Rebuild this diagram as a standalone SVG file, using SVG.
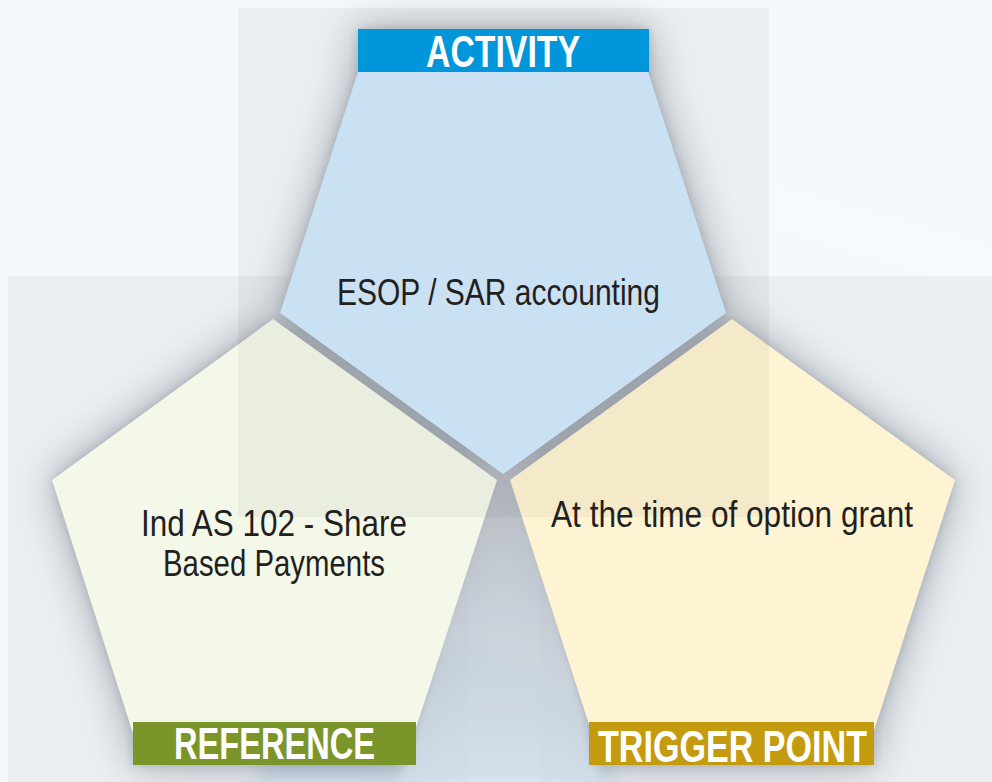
<svg xmlns="http://www.w3.org/2000/svg" width="992" height="782" viewBox="0 0 992 782">
  <defs>
    <filter id="shadowWide" x="-30%" y="-30%" width="160%" height="160%">
      <feGaussianBlur stdDeviation="22"/>
    </filter>
    <filter id="shadowTight" x="-20%" y="-20%" width="140%" height="140%">
      <feGaussianBlur stdDeviation="5"/>
    </filter>
    <filter id="soft" x="-20%" y="-20%" width="140%" height="140%">
      <feGaussianBlur stdDeviation="8"/>
    </filter>
    <linearGradient id="gapGrad" x1="0" y1="0" x2="0" y2="1">
      <stop offset="0" stop-color="#b3b7bf"/>
      <stop offset="0.45" stop-color="#c3cad3"/>
      <stop offset="1" stop-color="#d3dfe9"/>
    </linearGradient>
    <g id="shapes">
      <polygon points="365,50 641,50 726,313 503,474 280,313"/>
      <polygon points="273,319 497,480 411,743 136,743 52,480"/>
      <polygon points="732,319 955,480 870,743 595,743 510,480"/>
      <rect x="358" y="29" width="291" height="43"/>
      <rect x="133" y="722" width="283" height="43"/>
      <rect x="589" y="722" width="285" height="43"/>
    </g>
    <style>
      .veil { fill: #000000; fill-opacity: 0.04; }
      .body { font-family: "Liberation Sans", Arial, sans-serif; font-size: 36px; fill: #231f20; }
      .label { font-family: "Liberation Sans", Arial, sans-serif; font-size: 45px; font-weight: bold; fill: #ffffff; }
    </style>
  </defs>

  <!-- background -->
  <rect x="0" y="0" width="992" height="782" fill="#f5f9fc"/>
  <g id="background-streaks" filter="url(#soft)">
    <polygon points="250,782 320,700 470,640 560,690 620,782" fill="#c4def0" fill-opacity="0.7"/>
    <polygon points="700,170 992,250 992,290 760,220" fill="#ffffff" fill-opacity="0.25"/>
  </g>
  <rect class="veil" x="8" y="276" width="459" height="506"/>
  <rect class="veil" x="539" y="276" width="453" height="506"/>

  <!-- shadows -->
  <g id="shadows">
    <use href="#shapes" fill="#6f7784" opacity="0.62" filter="url(#shadowWide)"/>
    <use href="#shapes" fill="#8a909a" opacity="0.45" filter="url(#shadowTight)"/>
    <polygon points="490,470 517,470 600,782 400,782" fill="url(#gapGrad)" opacity="0.85" filter="url(#shadowTight)"/>
  </g>

  <g id="connectors"/>

  <g id="reference">
    <polygon points="273,319 497,480 411,743 136,743 52,480" fill="#f4f8e8"/>
  </g>
  <g id="trigger-point">
    <polygon points="732,319 955,480 870,743 595,743 510,480" fill="#fef3d2"/>
  </g>

  <!-- top translucent panel -->
  <rect class="veil" x="238" y="8" width="531" height="509"/>

  <g id="activity">
    <polygon points="365,50 641,50 726,313 503,474 280,313" fill="#c9e1f3"/>
    <rect x="358" y="29" width="291" height="43" fill="#0096d9"/>
    <text class="label" x="426" y="67" textLength="154" lengthAdjust="spacingAndGlyphs">ACTIVITY</text>
    <text class="body" x="337" y="305" textLength="323" lengthAdjust="spacingAndGlyphs">ESOP / SAR accounting</text>
  </g>

  <g id="reference-label">
    <rect x="133" y="722" width="283" height="43" fill="#7a962a"/>
    <text class="label" x="174" y="759" textLength="201" lengthAdjust="spacingAndGlyphs">REFERENCE</text>
    <text class="body" x="141" y="536" textLength="266" lengthAdjust="spacingAndGlyphs">Ind AS 102 - Share</text>
    <text class="body" x="163" y="576" textLength="222" lengthAdjust="spacingAndGlyphs">Based Payments</text>
  </g>

  <g id="trigger-point-label">
    <rect x="589" y="722" width="285" height="43" fill="#c49b0f"/>
    <text class="label" x="598" y="762" textLength="269" lengthAdjust="spacingAndGlyphs">TRIGGER POINT</text>
    <text class="body" x="551" y="527" textLength="362" lengthAdjust="spacingAndGlyphs">At the time of option grant</text>
  </g>
</svg>
